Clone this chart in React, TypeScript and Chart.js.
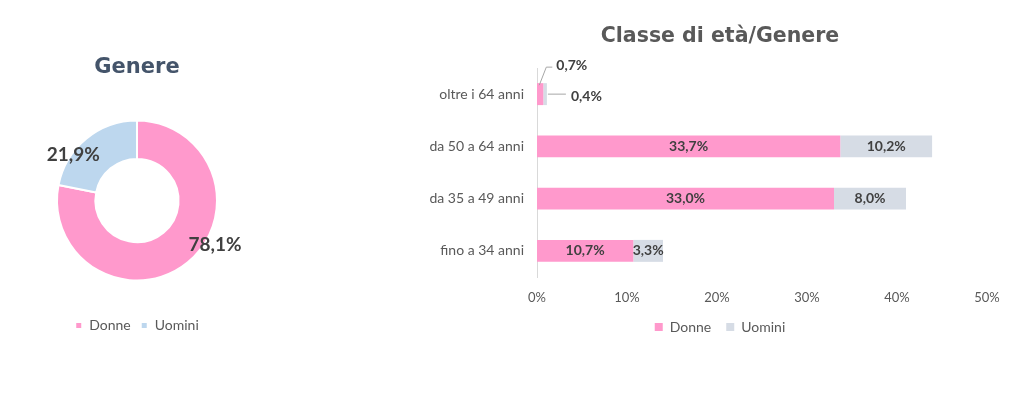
import { useEffect, useRef } from "react";
import { Chart, registerables } from "chart.js";

Chart.register(...registerables);

// --- data ---
const genderLabels = ["Donne", "Uomini"];
const genderShares = [78.1, 21.9];

const ageClasses = ["oltre i 64 anni", "da 50 a 64 anni", "da 35 a 49 anni", "fino a 34 anni"];
const womenByAge = [0.7, 33.7, 33.0, 10.7];
const menByAge = [0.4, 10.2, 8.0, 3.3];
const xTickValues = [0, 10, 20, 30, 40, 50];

const PINK = "#FF99CC";
const LIGHT_BLUE = "#BDD7EE";
const GREY_BLUE = "#D6DCE5";
const TEXT = "#595959";
const LABEL = "#404040";

const fmt = (v: number) => v.toFixed(1).replace(".", ",") + "%";

// donut label placement: angle shift (rad) and distance (× outer radius)
const slicePlacement = [
  { shift: -0.37, dist: 1.12 },
  { shift: -0.26, dist: 0.98 },
];

const donutLabels = {
  id: "donutLabels",
  afterDatasetsDraw(chart: any) {
    const { ctx } = chart;
    const meta = chart.getDatasetMeta(0);
    ctx.save();
    ctx.font = "bold 19px Lato";
    ctx.fillStyle = LABEL;
    ctx.textAlign = "center";
    ctx.textBaseline = "middle";
    meta.data.forEach((arc: any, i: number) => {
      const { x, y, startAngle, endAngle, outerRadius } = arc.getProps(
        ["x", "y", "startAngle", "endAngle", "outerRadius"],
        true
      );
      const p = slicePlacement[i];
      const a = (startAngle + endAngle) / 2 + p.shift;
      const r = outerRadius * p.dist;
      ctx.fillText(fmt(genderShares[i]), x + Math.cos(a) * r, y + Math.sin(a) * r);
    });
    ctx.restore();
  },
};

const barLabels = {
  id: "barLabels",
  // let the category labels draw left of the padded layout box
  afterLayout(chart: any) {
    if (chart.scales.y) chart.scales.y.left = 0;
  },
  afterDatasetsDraw(chart: any) {
    const { ctx } = chart;
    ctx.save();
    ctx.font = "bold 14px Lato";
    ctx.fillStyle = LABEL;
    ctx.strokeStyle = "#A6A6A6";
    ctx.lineWidth = 1;
    ctx.textBaseline = "middle";
    chart.data.datasets.forEach((ds: any, di: number) => {
      const meta = chart.getDatasetMeta(di);
      meta.data.forEach((bar: any, i: number) => {
        const v = ds.data[i] as number;
        const { x, y, base } = bar.getProps(["x", "y", "base"], true);
        if (v >= 2) {
          ctx.textAlign = "center";
          ctx.fillText(fmt(v), (x + base) / 2, y);
        } else if (di === 0) {
          // small value: callout above
          ctx.beginPath();
          ctx.moveTo(x - 4, y - 9);
          ctx.lineTo(x + 3, y - 27);
          ctx.lineTo(x + 9, y - 27);
          ctx.stroke();
          ctx.textAlign = "left";
          ctx.fillText(fmt(v), x + 13, y - 29);
        } else {
          // small value: callout to the right
          ctx.beginPath();
          ctx.moveTo(x + 1, y);
          ctx.lineTo(x + 19, y);
          ctx.stroke();
          ctx.textAlign = "left";
          ctx.fillText(fmt(v), x + 24, y + 2);
        }
      });
    });
    ctx.restore();
  },
};

function GenderDonut() {
  const ref = useRef<HTMLCanvasElement>(null);
  useEffect(() => {
    if (!ref.current) return;
    const chart = new Chart(ref.current, {
      type: "doughnut",
      data: {
        labels: genderLabels,
        datasets: [
          {
            data: genderShares,
            backgroundColor: [PINK, LIGHT_BLUE],
            borderColor: "#ffffff",
            borderWidth: 2,
          },
        ],
      },
      options: {
        animation: false,
        responsive: true,
        maintainAspectRatio: false,
        radius: 80,
        cutout: "52%",
        layout: { padding: { top: 0, bottom: 60.5, left: 0, right: 0 } },
        plugins: {
          title: {
            display: true,
            text: "Genere",
            color: "#44546A",
            font: { family: "DejaVu Sans", size: 21, weight: "bold" },
            padding: { top: 55.4, bottom: 11.9 },
          },
          legend: {
            position: "bottom",
            labels: {
              color: TEXT,
              font: { family: "Lato", size: 14 },
              boxWidth: 7,
              boxHeight: 7,
              padding: 10,
            },
          },
          tooltip: { enabled: false },
        },
      } as any,
      plugins: [donutLabels],
    });
    return () => chart.destroy();
  }, []);
  return (
    <div style={{ position: "absolute", left: 0, top: 0, width: 274, height: 403 }}>
      <canvas ref={ref}></canvas>
    </div>
  );
}

function AgeGenderBars() {
  const ref = useRef<HTMLCanvasElement>(null);
  useEffect(() => {
    if (!ref.current) return;
    const chart = new Chart(ref.current, {
      type: "bar",
      data: {
        labels: ageClasses,
        datasets: [
          { label: "Donne", data: womenByAge, backgroundColor: PINK },
          { label: "Uomini", data: menByAge, backgroundColor: GREY_BLUE },
        ],
      },
      options: {
        animation: false,
        responsive: true,
        maintainAspectRatio: false,
        indexAxis: "y",
        categoryPercentage: 0.42,
        barPercentage: 1,
        layout: { padding: { top: 0, bottom: 59, left: 53, right: 33 } },
        scales: {
          x: {
            stacked: true,
            min: 0,
            max: 50,
            afterBuildTicks: (s: any) => {
              s.ticks = xTickValues.map((v) => ({ value: v }));
            },
            afterFit: (s: any) => {
              s.height = 28;
            },
            grid: { display: false, drawTicks: false },
            border: { display: false },
            ticks: {
              color: TEXT,
              font: { family: "Lato", size: 13 },
              padding: 13,
              callback: (v: any) => v + "%",
            },
          },
          y: {
            stacked: true,
            afterFit: (s: any) => {
              s.width = 84;
            },
            grid: { display: false, drawTicks: false },
            border: { display: true, color: "#D9D9D9", width: 1 },
            ticks: {
              color: TEXT,
              font: { family: "Lato", size: 14 },
              padding: 13,
            },
          },
        },
        plugins: {
          title: {
            display: true,
            text: "Classe di età/Genere",
            color: TEXT,
            font: { family: "DejaVu Sans", size: 20.5, weight: "bold" },
            padding: { top: 24.7, bottom: 18.7 },
          },
          legend: {
            position: "bottom",
            labels: {
              color: TEXT,
              font: { family: "Lato", size: 14 },
              boxWidth: 8,
              boxHeight: 8,
              padding: 15,
            },
          },
          tooltip: { enabled: false },
        },
      } as any,
      plugins: [barLabels],
    });
    return () => chart.destroy();
  }, []);
  return (
    <div style={{ position: "absolute", left: 400, top: 0, width: 620, height: 403 }}>
      <canvas ref={ref}></canvas>
    </div>
  );
}

export default function App() {
  return (
    <div
      style={{
        position: "absolute",
        left: 0,
        top: 0,
        width: 1024,
        height: 403,
        background: "#ffffff",
        overflow: "hidden",
      }}
    >
      <GenderDonut />
      <AgeGenderBars />
    </div>
  );
}
